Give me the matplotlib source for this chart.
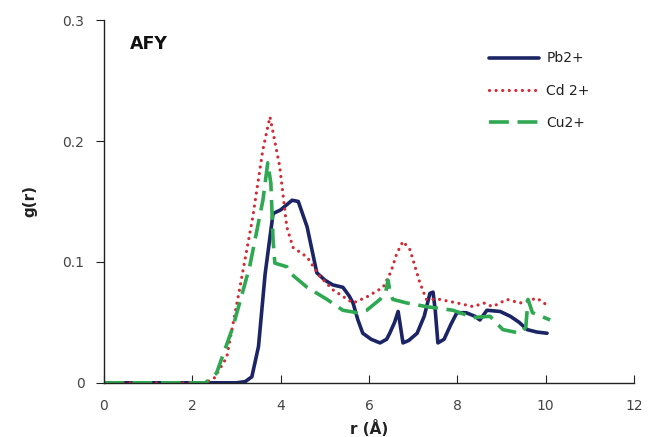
import matplotlib
matplotlib.use("Agg")
import matplotlib.pyplot as plt

# Radial distribution functions g(r) for metal ions in AFY
r_pb = [0.0, 3.0, 3.2, 3.35, 3.5, 3.65, 3.83, 4.0, 4.26, 4.4, 4.6, 4.82, 5.0, 5.18, 5.41,
        5.55, 5.64, 5.75, 5.86, 6.05, 6.25, 6.4, 6.47, 6.58, 6.66, 6.72, 6.77, 6.9, 7.09, 7.25,
        7.38, 7.45, 7.5, 7.56, 7.7, 7.85, 7.99, 8.2, 8.4, 8.51, 8.67, 8.97, 9.2, 9.4, 9.58,
        9.8, 10.03]
g_pb = [0.0, 0.0, 0.001, 0.005, 0.03, 0.09, 0.14, 0.143, 0.151, 0.15, 0.129, 0.091, 0.085, 0.081, 0.079,
        0.072, 0.066, 0.052, 0.041, 0.036, 0.033, 0.036, 0.041, 0.05, 0.059, 0.045, 0.033, 0.035, 0.041, 0.055,
        0.074, 0.075, 0.06, 0.033, 0.036, 0.048, 0.058, 0.058, 0.055, 0.052, 0.06, 0.059, 0.055, 0.05, 0.044,
        0.042, 0.041]

r_cd = [0.0, 2.3, 2.5, 2.78, 3.08, 3.37, 3.6, 3.76, 3.98, 4.14, 4.28, 4.6, 4.89, 5.18, 5.64,
        5.95, 6.32, 6.5, 6.63, 6.77, 6.93, 7.15, 7.3, 7.6, 8.0, 8.36, 8.6, 8.8, 9.12, 9.42,
        9.8, 10.0]
g_cd = [0.0, 0.0, 0.004, 0.021, 0.079, 0.137, 0.193, 0.22, 0.179, 0.129, 0.112, 0.104, 0.088, 0.077, 0.066,
        0.071, 0.079, 0.092, 0.107, 0.117, 0.11, 0.083, 0.069, 0.069, 0.066, 0.063, 0.066, 0.063, 0.069, 0.066,
        0.070, 0.065]

r_cu = [0.0, 2.3, 2.55, 2.92, 3.3, 3.6, 3.71, 3.78, 3.83, 3.87, 4.14, 4.21, 4.6, 5.05, 5.41,
        5.73, 5.95, 6.25, 6.38, 6.43, 6.48, 6.54, 6.86, 7.3, 7.9, 8.36, 8.74, 9.03, 9.42, 9.55,
        9.6, 9.7, 10.1]
g_cu = [0.0, 0.0, 0.008, 0.046, 0.096, 0.151, 0.182, 0.165, 0.118, 0.099, 0.096, 0.091, 0.079, 0.069, 0.060,
        0.058, 0.060, 0.069, 0.075, 0.085, 0.075, 0.069, 0.066, 0.063, 0.060, 0.054, 0.055, 0.044, 0.041, 0.046,
        0.069, 0.058, 0.052]

labels = ["Pb2+", "Cd 2+", "Cu2+"]
colors = ["#1b2566", "#d42a35", "#2fa852"]
x_ticks = [0, 2, 4, 6, 8, 10, 12]
y_ticks = [0, 0.1, 0.2, 0.3]

fig = plt.figure(figsize=(6.49, 4.37), dpi=100)
ax = fig.add_axes([0.160, 0.124, 0.817, 0.830])

ax.plot(r_pb, g_pb, color=colors[0], lw=2.6, label=labels[0],
        solid_joinstyle="round", solid_capstyle="round")
ax.plot(r_cd, g_cd, color=colors[1], lw=2.3, linestyle=(0, (0.01, 2.05)),
        dash_capstyle="round", label=labels[1])
ax.plot(r_cu, g_cu, color=colors[2], lw=2.6, linestyle=(0, (5.5, 2.4)), label=labels[2])

ax.set_xlim(0, 12)
ax.set_ylim(0, 0.3)
ax.set_xticks(x_ticks)
ax.set_yticks(y_ticks)
ax.set_yticklabels(["0", "0.1", "0.2", "0.3"])

for side in ("top", "right"):
    ax.spines[side].set_visible(False)
for side in ("left", "bottom"):
    ax.spines[side].set_color("#222222")
    ax.spines[side].set_linewidth(1.0)

ax.tick_params(axis="x", direction="in", length=6, colors="#222222",
               labelcolor="#444444", labelsize=10, pad=12)
ax.tick_params(axis="y", direction="out", length=6, colors="#222222",
               labelcolor="#444444", labelsize=10, pad=8)

ax.set_xlabel("r (Å)", fontsize=11, fontweight="bold", color="#222222", labelpad=5)
ax.set_ylabel("g(r)", fontsize=11, fontweight="bold", color="#222222", labelpad=18)

ax.text(0.05, 0.935, "AFY", transform=ax.transAxes, fontsize=12.5,
        fontweight="bold", color="#111111", va="center", ha="left")

leg = ax.legend(loc="upper right", bbox_to_anchor=(0.94, 0.948), frameon=False,
                fontsize=10, handlelength=3.6, handletextpad=0.5, labelspacing=1.3)
for t in leg.get_texts():
    t.set_color("#222222")

fig.savefig("out.png", dpi=100)
